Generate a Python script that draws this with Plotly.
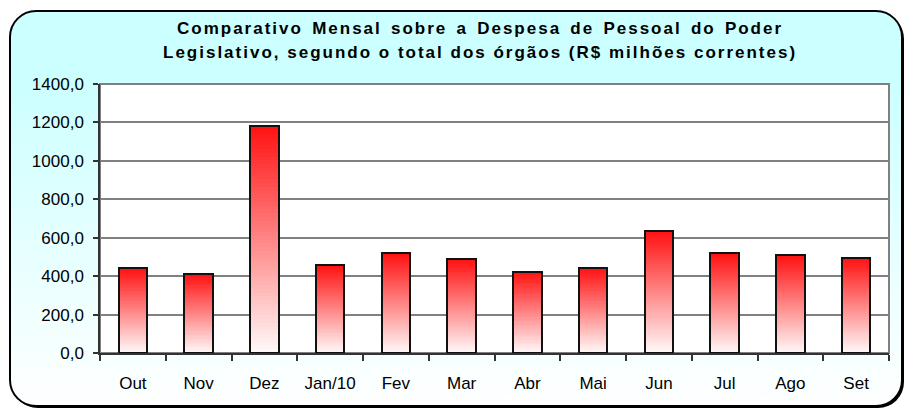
import base64
import plotly.graph_objects as go

# ---- data ----
months = ["Out", "Nov", "Dez", "Jan/10", "Fev", "Mar", "Abr", "Mai", "Jun", "Jul", "Ago", "Set"]
values = [443, 412, 1180, 457, 518, 488, 423, 443, 633, 518, 508, 496]
title_line1 = "Comparativo Mensal sobre a Despesa de Pessoal do Poder"
title_line2 = "Legislativo, segundo o total dos órgãos (R$ milhões correntes)"
y_ticks = [0, 200, 400, 600, 800, 1000, 1200, 1400]

W, H = 906, 410
ML, MR, MT, MB = 100, 17, 84, 57
PW, PH = W - ML - MR, H - MT - MB
FONT = "Liberation Sans, Arial, sans-serif"

fig = go.Figure()

# gradient bars: each bar split into N equal slices, coloured white (bottom) -> red (top)
N = 60
top_rgb = (255, 18, 18)
bot_rgb = (255, 250, 250)
for k in range(N):
    t = (k + 0.5) / N
    c = tuple(round(bot_rgb[i] + (top_rgb[i] - bot_rgb[i]) * t) for i in range(3))
    fig.add_trace(go.Bar(
        x=months, y=[v / N for v in values],
        marker=dict(color="rgb(%d,%d,%d)" % c, line=dict(width=0)),
        showlegend=False, hoverinfo="skip",
    ))

# outline bars
fig.add_trace(go.Bar(
    x=months, y=values, xaxis="x2",
    marker=dict(color="rgba(0,0,0,0)", line=dict(color="#111111", width=2)),
    showlegend=False, hoverinfo="skip",
))

# background: rounded box with cyan->white gradient
svg = f'''<svg xmlns="http://www.w3.org/2000/svg" width="{W}" height="{H}" viewBox="0 0 {W} {H}">
<defs><linearGradient id="g" x1="0" y1="0" x2="0" y2="1">
<stop offset="0" stop-color="#CCFFFF"/><stop offset="0.18" stop-color="#CCFFFF"/>
<stop offset="1" stop-color="#FFFFFF"/></linearGradient></defs>
<rect x="12" y="13" width="892" height="395" rx="26" ry="26" fill="#000"/>
<rect x="10" y="11" width="892" height="395" rx="26" ry="26" fill="url(#g)" stroke="#000" stroke-width="2"/>
</svg>'''
src = "data:image/svg+xml;base64," + base64.b64encode(svg.encode()).decode()
fig.add_layout_image(dict(
    source=src, xref="paper", yref="paper",
    x=-ML / PW, y=1 + MT / PH, sizex=W / PW, sizey=H / PH,
    xanchor="left", yanchor="top", sizing="stretch", layer="below",
))

# white plot area with grey border
fig.add_shape(type="rect", xref="paper", yref="paper", x0=0, y0=0, x1=1, y1=1,
              fillcolor="white", line=dict(color="#808080", width=2), layer="below")

# title (two lines)
for i, (txt, ypx) in enumerate([(title_line1, 28), (title_line2, 53)]):
    fig.add_annotation(text="<b>%s</b>" % txt, xref="paper", yref="paper",
                       x=(480 - ML) / PW, y=(H - MB - ypx) / PH,
                       xanchor="center", yanchor="middle", showarrow=False,
                       name="t%d" % i,
                       font=dict(family=FONT, size=17, color="#000"))

fig.update_layout(
    width=W, height=H, margin=dict(l=ML, r=MR, t=MT, b=MB),
    paper_bgcolor="white", plot_bgcolor="rgba(0,0,0,0)",
    barmode="stack", bargap=0.57, separators=",.",
    font=dict(family=FONT, size=17, color="#000"),
    xaxis=dict(type="category", categoryorder="array", categoryarray=months,
               tickson="boundaries", ticks="outside", ticklen=6, tickwidth=1.5,
               tickcolor="#333", showline=True, linecolor="#333", linewidth=1.5,
               showgrid=False, ticklabelstandoff=14,
               tickfont=dict(family=FONT, size=17, color="#000")),
    xaxis2=dict(type="category", categoryorder="array", categoryarray=months,
                overlaying="x", anchor="y", visible=False),
    yaxis=dict(range=[0, 1400], tickvals=y_ticks, tickformat=".1f",
               ticks="outside", ticklen=5, tickwidth=1.5, tickcolor="#333",
               showline=True, linecolor="#333", linewidth=1.5,
               showgrid=True, gridcolor="#808080", gridwidth=1.5,
               zeroline=False, ticklabelstandoff=6,
               tickfont=dict(family=FONT, size=17, color="#000")),
)

post = """
document.body.style.margin = '0';
var gd = document.getElementById('{plot_id}');
var texts = gd.querySelectorAll('.annotation-text');
texts.forEach(function(t, i){
  t.setAttribute('letter-spacing', '2px');
  if (i === 0) { t.setAttribute('word-spacing', '2.5px'); }
});
"""
fig.write_html("out.html", post_script=post, config={"displayModeBar": False})
